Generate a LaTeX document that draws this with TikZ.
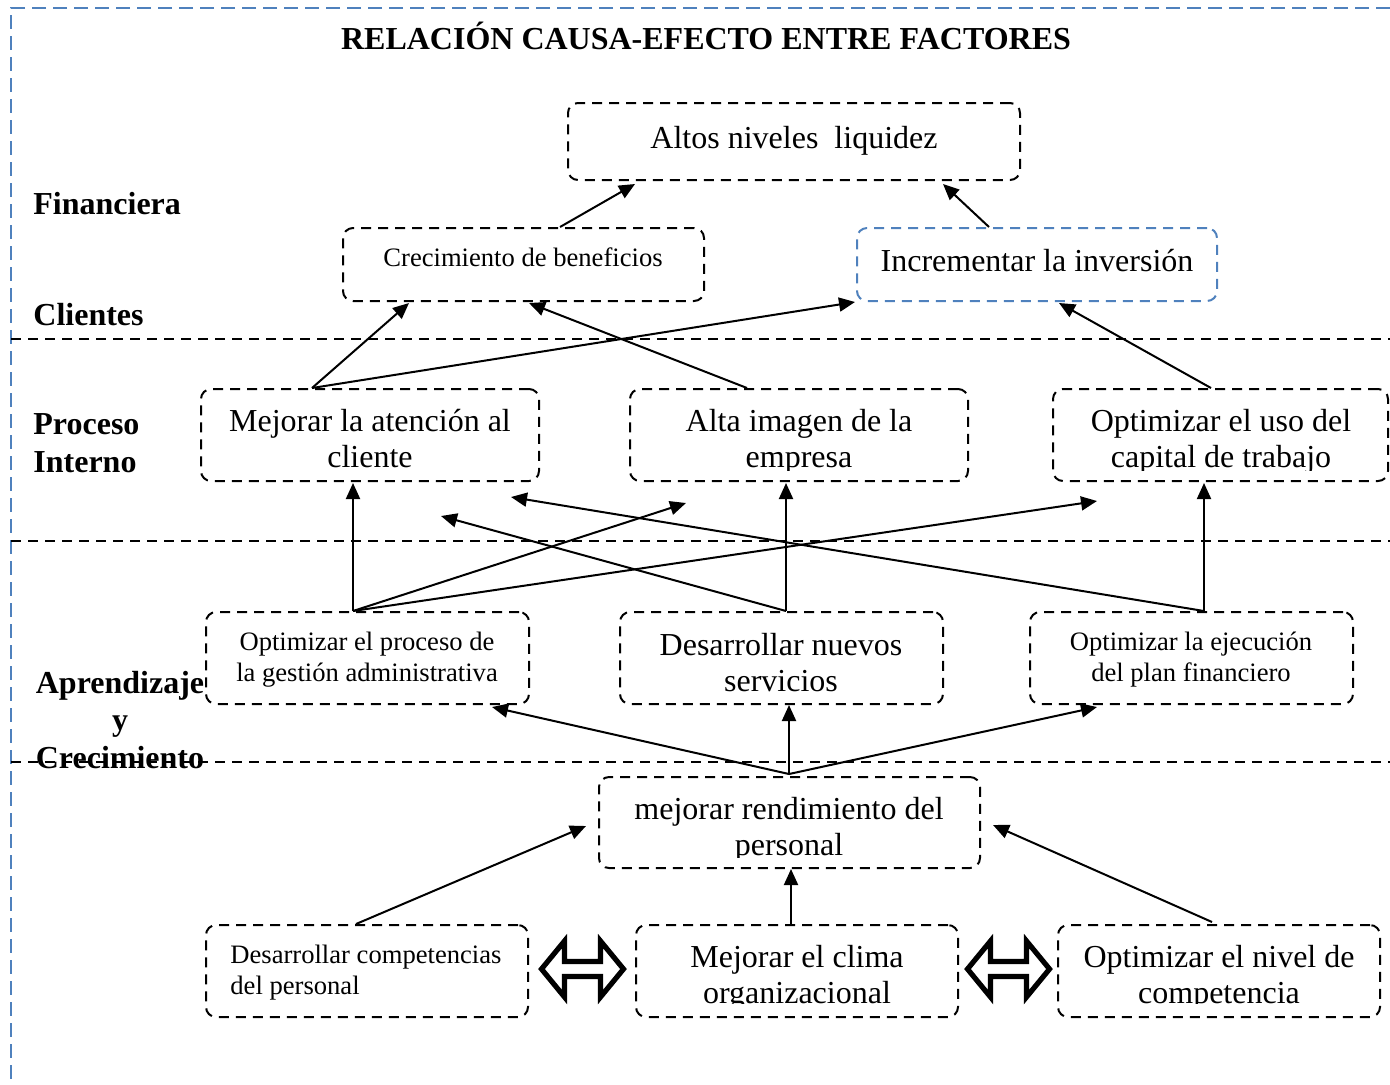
\documentclass[tikz,border=0pt]{standalone}
\usepackage{fontspec}
\setmainfont{Liberation Serif}
\usetikzlibrary{arrows.meta,calc}
\definecolor{frameblue}{RGB}{79,129,189}
\newcommand\twoln[2]{\begin{tabular}[t]{@{}c@{}}#1\\#2\end{tabular}}
\newcommand\threeln[3]{\begin{tabular}[t]{@{}c@{}}#1\\#2\\#3\end{tabular}}
\tikzset{
  box/.style={draw, line width=1pt, dash pattern=on 5pt off 3.5pt, rounded corners=5pt, inner sep=0pt},
  bluebox/.style={box, draw=frameblue},
  bigtxt/.style={font=\fontsize{16}{18}\selectfont, inner sep=0pt, anchor=base},
  smalltxt/.style={font=\fontsize{13.3}{15.5}\selectfont, inner sep=0pt, anchor=base},
  sectlbl/.style={font=\fontsize{16}{19}\selectfont\bfseries, inner sep=0pt, anchor=base west},
  link/.style={-{Triangle[length=8pt,width=7pt]}, line width=1pt},
  divider/.style={line width=1pt, dash pattern=on 5pt off 3.5pt},
  frameline/.style={draw=frameblue, line width=1.2pt, dash pattern=on 7pt off 3.5pt},
  blockarrow/.style={draw, fill=white, line width=2.6pt, line join=miter}
}
\begin{document}
\begin{tikzpicture}[x=0.5pt, y=-0.5pt]
\useasboundingbox (0,0) rectangle (1390,1084);

% outer frame
\draw[frameline] (1390,8) -- (11,8) -- (11,1084);

% title
\node[font=\fontsize{16}{18}\selectfont\bfseries, inner sep=0pt, anchor=base] (title) at (706,49) {RELACIÓN CAUSA-EFECTO ENTRE FACTORES};

% perspective labels
\node[sectlbl] (lfin) at (33,214) {Financiera};
\node[sectlbl] (lcli) at (33,325) {Clientes};
\node[font=\fontsize{16}{19}\selectfont\bfseries, inner sep=0pt, anchor=base west] (lpro) at (33,434)
  {\begin{tabular}[t]{@{}l@{}}Proceso\\Interno\end{tabular}};
\node[font=\fontsize{16}{18.75}\selectfont\bfseries, inner sep=0pt, anchor=base] (lapr) at (120,693)
  {\threeln{Aprendizaje}{y}{Crecimiento}};

% dividers between perspectives
\draw[divider] (11,339) -- (1390,339);
\draw[divider] (11,541) -- (1390,541);
\draw[divider] (11,762) -- (1390,762);

% boxes
\node[box, minimum width=226pt, minimum height=38.5pt] (alt) at (794,141.5) {};
\node[box, minimum width=180.5pt, minimum height=36.5pt] (crec) at (523.5,264.5) {};
\node[bluebox, minimum width=180pt, minimum height=36.5pt] (inv) at (1037,264.5) {};
\node[box, minimum width=169pt, minimum height=46pt] (aten) at (370,435) {};
\node[box, minimum width=169pt, minimum height=46pt] (imag) at (799,435) {};
\node[box, minimum width=167.5pt, minimum height=46pt] (capi) at (1220.5,435) {};
\node[box, minimum width=161.5pt, minimum height=46pt] (proc) at (367.5,658) {};
\node[box, minimum width=161.5pt, minimum height=46pt] (serv) at (781.5,658) {};
\node[box, minimum width=161.5pt, minimum height=46pt] (ejec) at (1191.5,658) {};
\node[box, minimum width=190.5pt, minimum height=45.5pt] (rend) at (789.5,822.5) {};
\node[box, minimum width=161pt, minimum height=46pt] (comp) at (367,971) {};
\node[box, minimum width=161pt, minimum height=46pt] (clim) at (797,971) {};
\node[box, minimum width=161pt, minimum height=46pt] (nivel) at (1219,971) {};

% box texts
\node[bigtxt] (altT) at (794,148) {Altos niveles~ liquidez};
\node[smalltxt] (crecT) at (523,266) {Crecimiento de beneficios};
\node[bigtxt] (invT) at (1037,271) {Incrementar la inversión};
\node[bigtxt] (atenT) at (370,431) {\twoln{Mejorar la atención al}{cliente}};
\begin{scope}
  \clip (630,389) rectangle (968,470);
  \node[bigtxt] (imagT) at (799,431) {\twoln{Alta imagen de la}{empresa}};
\end{scope}
\begin{scope}
  \clip (1053,389) rectangle (1388,470);
  \node[bigtxt] (capiT) at (1221,431) {\twoln{Optimizar el uso del}{capital de trabajo}};
\end{scope}
\node[smalltxt] (procT) at (367,650) {\twoln{Optimizar el proceso de}{la gestión administrativa}};
\node[bigtxt] (servT) at (781,655) {\twoln{Desarrollar nuevos}{servicios}};
\node[smalltxt] (ejecT) at (1191,650) {\twoln{Optimizar la ejecución}{del plan financiero}};
\begin{scope}
  \clip (599,777) rectangle (980,857);
  \node[bigtxt] (rendT) at (789,819) {\twoln{mejorar rendimiento del}{personal}};
\end{scope}
\node[smalltxt, anchor=base west] (compT) at (230,963)
  {\begin{tabular}[t]{@{}l@{}}Desarrollar competencias\\del personal\end{tabular}};
\begin{scope}
  \clip (636,925) rectangle (958,1003);
  \node[bigtxt] (climT) at (797,967) {\twoln{Mejorar el clima}{organizacional}};
\end{scope}
\begin{scope}
  \clip (1058,925) rectangle (1380,1003);
  \node[bigtxt] (nivelT) at (1219,967) {\twoln{Optimizar el nivel de}{competencia}};
\end{scope}

% hollow two-way block arrows between the bottom boxes
\foreach \cx in {582.5,1008.5} {
  \draw[blockarrow] (\cx-41,969) -- (\cx-18,941) -- (\cx-18,961.5) -- (\cx+18,961.5)
    -- (\cx+18,941) -- (\cx+41,969) -- (\cx+18,997) -- (\cx+18,976.5)
    -- (\cx-18,976.5) -- (\cx-18,997) -- cycle;
}

% cause-effect links
\draw[link] ($(crec.north west)+(218,0)$) -- ($(alt.south west)+(68,3)$);
\draw[link] ($(inv.north west)+(133,0)$) -- ($(alt.south west)+(376,3)$);

\draw[link] ($(aten.north west)+(112,0)$) -- ($(crec.south west)+(67,1)$);
\draw[link] ($(aten.north west)+(112,0)$) -- ($(inv.south west)+(-1,0)$);
\draw[link] ($(imag.north west)+(118,0)$) -- ($(crec.south west)+(187,1)$);
\draw[link] ($(capi.north west)+(159,0)$) -- ($(inv.south west)+(203,1)$);

\coordinate (tipImag) at ($(imag.south west)+(57,21)$);
\coordinate (tipCapi) at ($(capi.south west)+(45,19)$);
\coordinate (tipAtenA) at ($(aten.south west)+(241,34)$);
\coordinate (tipAtenB) at ($(aten.south west)+(311,15)$);
\draw[link] ($(proc.north west)+(148,0)$) -- ($(aten.south west)+(153,1)$);
\draw[link] ($(proc.north west)+(148,0)$) -- (tipImag);
\draw[link] ($(proc.north west)+(148,0)$) -- (tipCapi);
\draw[link] ($(serv.north west)+(167,0)$) -- ($(imag.south west)+(157,1)$);
\draw[link] ($(serv.north west)+(167,0)$) -- (tipAtenA);
\draw[link] ($(ejec.north west)+(175,0)$) -- ($(capi.south west)+(152,1)$);
\draw[link] ($(ejec.north west)+(175,0)$) -- (tipAtenB);

\draw[link] ($(rend.north west)+(191,-2)$) -- ($(proc.south west)+(287,2)$);
\draw[link] ($(rend.north west)+(191,-2)$) -- ($(serv.south west)+(170,0)$);
\draw[link] ($(rend.north west)+(191,-2)$) -- ($(ejec.south west)+(68,2)$);

\draw[link] ($(comp.north west)+(151,0)$) -- ($(rend.north west)+(-12,50)$);
\draw[link] ($(clim.north west)+(156,0)$) -- ($(rend.south west)+(193,0)$);
\draw[link] ($(nivel.north west)+(155,-2)$) -- ($(rend.north east)+(12,49)$);
\end{tikzpicture}
\end{document}
